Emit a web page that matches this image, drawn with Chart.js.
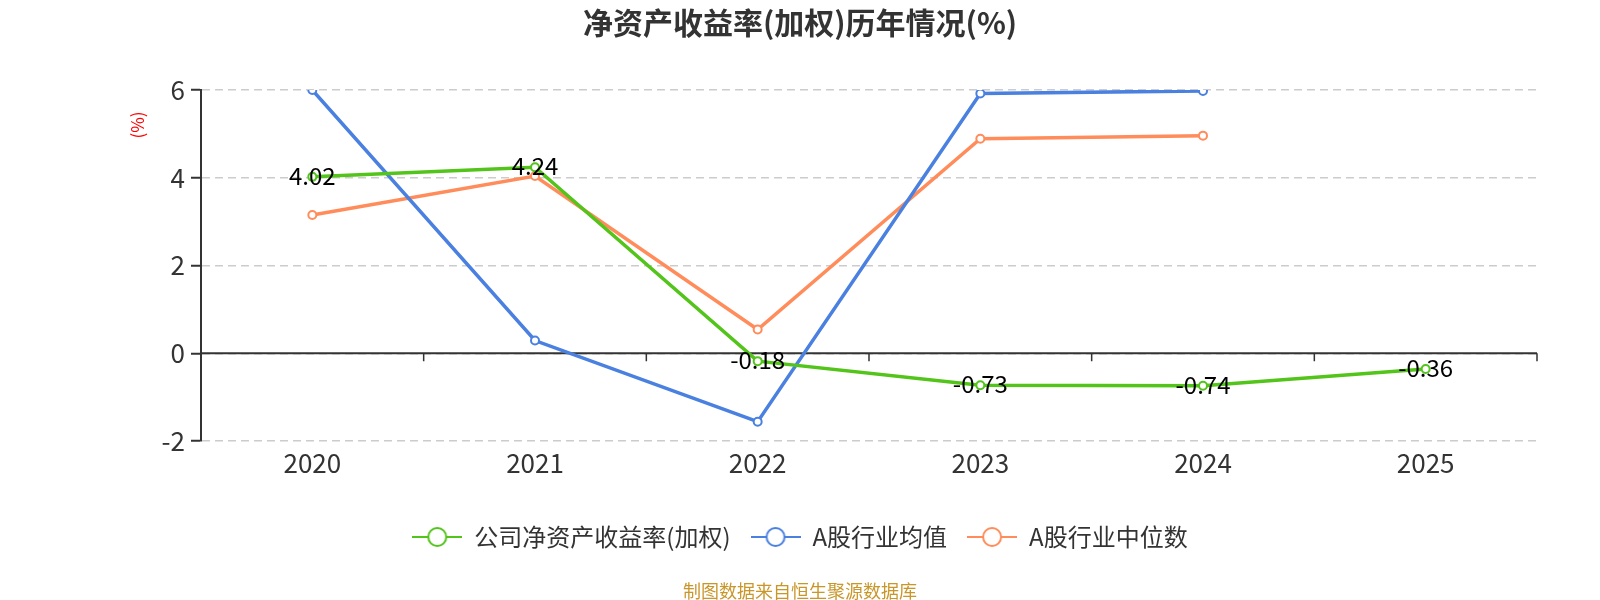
<!DOCTYPE html>
<html>
<head>
<meta charset="utf-8">
<script src="https://cdn.jsdelivr.net/npm/chart.js@4.4.0/dist/chart.umd.min.js"></script>
<style>
html, body { margin: 0; padding: 0; background: #fff; }
#wrap { width: 1600px; height: 600px; }
</style>
</head>
<body>
<div id="wrap"><canvas id="roeChart"></canvas></div>
<script>
// values
const years = ["2020", "2021", "2022", "2023", "2024", "2025"];
const companyRoe = [4.02, 4.24, -0.18, -0.73, -0.74, -0.36];
const industryAvg = [6.0, 0.29, -1.56, 5.92, 5.98, null];
const industryMedian = [3.15, 4.04, 0.54, 4.89, 4.96, null];
const yTicks = [-2, 0, 2, 4, 6];

const seriesNames = ["公司净资产收益率(加权)", "A股行业均值", "A股行业中位数"];
const seriesColors = ["#52c41a", "#4a80e0", "#ff8c5a"];

const FONT = "'Noto Sans CJK SC', 'Noto Sans', sans-serif";
Chart.defaults.font.family = FONT;
Chart.defaults.color = "#333";

// legend icon: short line with a hollow circle
function legendIcon(color) {
    const c = document.createElement("canvas");
    c.width = 50;
    c.height = 24;
    const g = c.getContext("2d");
    g.strokeStyle = color;
    g.lineWidth = 2;
    g.beginPath();
    g.moveTo(0, 12);
    g.lineTo(50, 12);
    g.stroke();
    g.beginPath();
    g.arc(25, 12, 9, 0, Math.PI * 2);
    g.fillStyle = "#fff";
    g.fill();
    g.stroke();
    return c;
}
const legendIcons = seriesColors.map(legendIcon);

// axis line at y = 0 with tick marks between categories
const zeroAxis = {
    id: "zeroAxis",
    beforeDatasetsDraw(chart) {
        const { ctx, chartArea, scales: { x, y } } = chart;
        const y0 = y.getPixelForValue(0);
        ctx.save();
        ctx.strokeStyle = "#333";
        ctx.lineWidth = 2;
        ctx.beginPath();
        ctx.moveTo(chartArea.left, y0);
        ctx.lineTo(chartArea.right, y0);
        ctx.stroke();
        ctx.lineWidth = 1.5;
        ctx.beginPath();
        for (let i = 1; i <= years.length; i++) {
            const bx = i < years.length
                ? (x.getPixelForValue(i - 1) + x.getPixelForValue(i)) / 2
                : chartArea.right;
            ctx.moveTo(bx, y0);
            ctx.lineTo(bx, y0 + 8);
        }
        ctx.stroke();
        ctx.restore();
    }
};

// value labels on the company series + the red "(%)" unit
const valueLabels = {
    id: "valueLabels",
    afterDatasetsDraw(chart) {
        const { ctx, chartArea } = chart;
        const meta = chart.getDatasetMeta(0);
        ctx.save();
        ctx.font = "24px " + FONT;
        ctx.fillStyle = "#000";
        ctx.textAlign = "center";
        ctx.textBaseline = "middle";
        meta.data.forEach((pt, i) => {
            ctx.fillText(companyRoe[i].toFixed(2), pt.x, pt.y - 1);
        });
        ctx.translate(chartArea.left - 63, chartArea.top + 35);
        ctx.rotate(-Math.PI / 2);
        ctx.font = "17px " + FONT;
        ctx.fillStyle = "#ff0000";
        ctx.fillText("(%)", 0, 0);
        ctx.restore();
    }
};

function lineSet(label, data, color) {
    return {
        label: label,
        data: data,
        borderColor: color,
        backgroundColor: "#fff",
        borderWidth: 3.5,
        pointRadius: 4,
        pointBorderWidth: 2,
        pointBackgroundColor: "#fff",
        pointBorderColor: color,
        tension: 0,
    };
}

const ctx = document.getElementById("roeChart").getContext("2d");
const roeChart = new Chart(ctx, {
    type: "line",
    data: {
        labels: years,
        datasets: [
            lineSet(seriesNames[0], companyRoe, seriesColors[0]),
            lineSet(seriesNames[1], industryAvg, seriesColors[1]),
            lineSet(seriesNames[2], industryMedian, seriesColors[2]),
        ],
    },
    options: {
        responsive: true,
        maintainAspectRatio: false,
        animation: false,
        layout: { padding: 0 },
        scales: {
            x: {
                offset: true,
                grid: { display: false, drawTicks: false },
                border: { display: false },
                ticks: { font: { size: 26 }, color: "#333", padding: 7 },
                afterFit: (scale) => { scale.height = 64; },
            },
            y: {
                min: -2,
                max: 6,
                afterBuildTicks: (scale) => { scale.ticks = yTicks.map(v => ({ value: v })); },
                ticks: { font: { size: 26 }, color: "#333", padding: 6 },
                grid: {
                    color: "#cccccc",
                    lineWidth: 1.5,
                    tickLength: 10,
                    tickColor: "#333",
                    tickWidth: 2,
                    tickBorderDash: [],
                },
                border: { display: true, color: "#333", width: 2, dash: [8, 5] },
                afterFit: (scale) => { scale.width = 201; },
            },
            // empty right-hand gutter so the plot ends where the reference does
            yGutter: {
                type: "linear",
                position: "right",
                grid: { display: false, drawTicks: false },
                border: { display: false },
                ticks: { display: false },
                afterFit: (scale) => { scale.width = 63; },
            },
        },
        plugins: {
            title: {
                display: true,
                text: "净资产收益率(加权)历年情况(%)",
                color: "#333",
                font: { size: 30, weight: "bold" },
                padding: { top: 5, bottom: 49 },
            },
            subtitle: {
                display: true,
                position: "bottom",
                text: "制图数据来自恒生聚源数据库",
                color: "#c9962a",
                font: { size: 18, lineHeight: 1 },
                padding: { top: 23, bottom: 0 },
            },
            legend: {
                position: "bottom",
                labels: {
                    usePointStyle: true,
                    pointStyleWidth: 50,
                    padding: 20,
                    color: "#333",
                    font: { size: 24 },
                    generateLabels: (chart) =>
                        Chart.defaults.plugins.legend.labels.generateLabels(chart)
                            .map((item, i) => ({ ...item, pointStyle: legendIcons[i] })),
                },
            },
            tooltip: { enabled: false },
        },
    },
    plugins: [zeroAxis, valueLabels],
});
</script>
</body>
</html>
